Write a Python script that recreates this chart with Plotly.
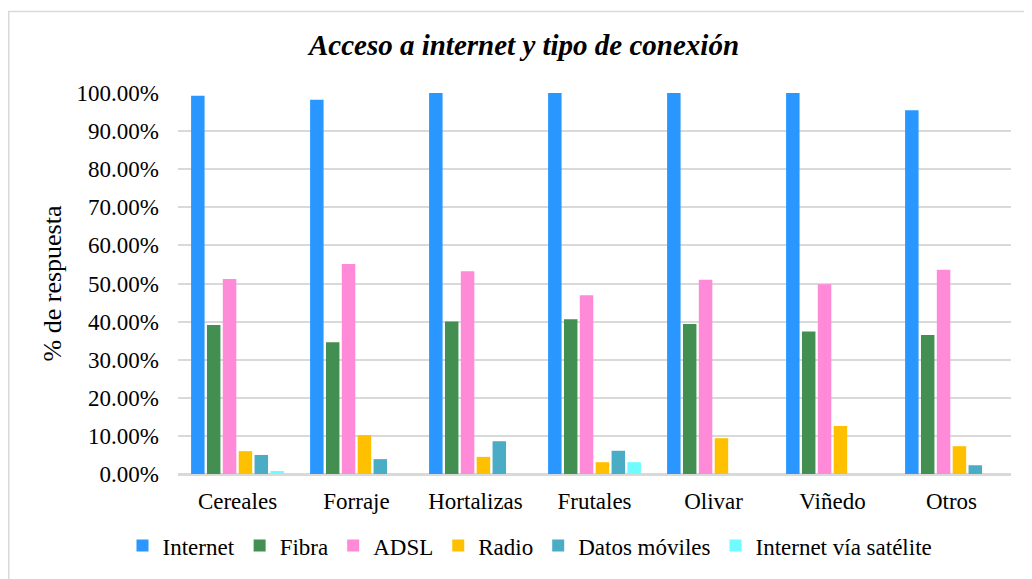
import plotly.graph_objects as go

categories = ["Cereales", "Forraje", "Hortalizas", "Frutales", "Olivar", "Viñedo", "Otros"]
internet = [99.3, 98.2, 100.0, 100.0, 100.0, 100.0, 95.5]
fibra = [39.1, 34.6, 40.0, 40.6, 39.4, 37.4, 36.5]
adsl = [51.2, 55.1, 53.2, 46.9, 51.0, 49.8, 53.6]
radio = [6.0, 10.2, 4.5, 3.1, 9.4, 12.6, 7.3]
datos_moviles = [5.0, 3.9, 8.6, 6.1, 0.0, 0.0, 2.3]
satelite = [0.8, 0.0, 0.0, 3.1, 0.0, 0.0, 0.0]
series_names = ["Internet", "Fibra", "ADSL", "Radio", "Datos móviles", "Internet vía satélite"]
series_values = [internet, fibra, adsl, radio, datos_moviles, satelite]
colors = ["#2997FF", "#428F51", "#FF8AD8", "#FFC000", "#4BACC6", "#6FFBFF"]
tick_vals = [0, 10, 20, 30, 40, 50, 60, 70, 80, 90, 100]
tick_text = [f"{v:.2f}%" for v in tick_vals]

FONT = "Liberation Serif, Times New Roman, serif"

W, H = 1024, 571
L, T, PW, PH = 170, 85, 833, 383

fig = go.Figure()
for name, vals, col in zip(series_names, series_values, colors):
    fig.add_trace(go.Bar(x=categories, y=vals, name=name,
                         marker=dict(color=col, line=dict(width=0))))

fig.update_layout(
    width=W, height=H,
    barmode="group", bargap=0.2, bargroupgap=0.15,
    paper_bgcolor="white", plot_bgcolor="white",
    margin=dict(l=L, r=W - L - PW, t=T, b=H - T - PH),
    font=dict(family=FONT, color="black", size=23),
    title=dict(text="<b><i>Acceso a internet y tipo de conexión</i></b>",
               x=516 / W, xanchor="center", y=1 - 37 / H, yanchor="middle",
               font=dict(family=FONT, size=29, color="black")),
    legend=dict(orientation="h", x=(522 - L) / PW, xanchor="center",
                y=(T + PH - 540) / PH, yanchor="middle",
                font=dict(family=FONT, size=23), itemwidth=30,
                tracegroupgap=0),
    showlegend=True,
)
fig.update_yaxes(range=[0, 100], tickvals=tick_vals, ticktext=tick_text,
                 showgrid=True, gridcolor="#D9D9D9", gridwidth=1.5,
                 zeroline=True, zerolinecolor="#D9D9D9", zerolinewidth=1.5,
                 showline=False, ticks="", ticklabelstandoff=18,
                 tickfont=dict(family=FONT, size=23),
                 title=dict(text="% de respuesta", standoff=7,
                            font=dict(family=FONT, size=26)))
fig.update_xaxes(showgrid=False, showline=True, linecolor="#D9D9D9", linewidth=1.5,
                 ticks="", ticklabelstandoff=6,
                 tickfont=dict(family=FONT, size=23))

fig.add_shape(type="rect", xref="paper", yref="paper",
              x0=(0.75 - L) / PW, x1=(W + 20 - L) / PW,
              y0=(T + PH - H - 20) / PH, y1=(T + PH - 3) / PH,
              line=dict(color="#D9D9D9", width=1.5), fillcolor="rgba(0,0,0,0)",
              layer="below")

fig.write_html("out.html")
